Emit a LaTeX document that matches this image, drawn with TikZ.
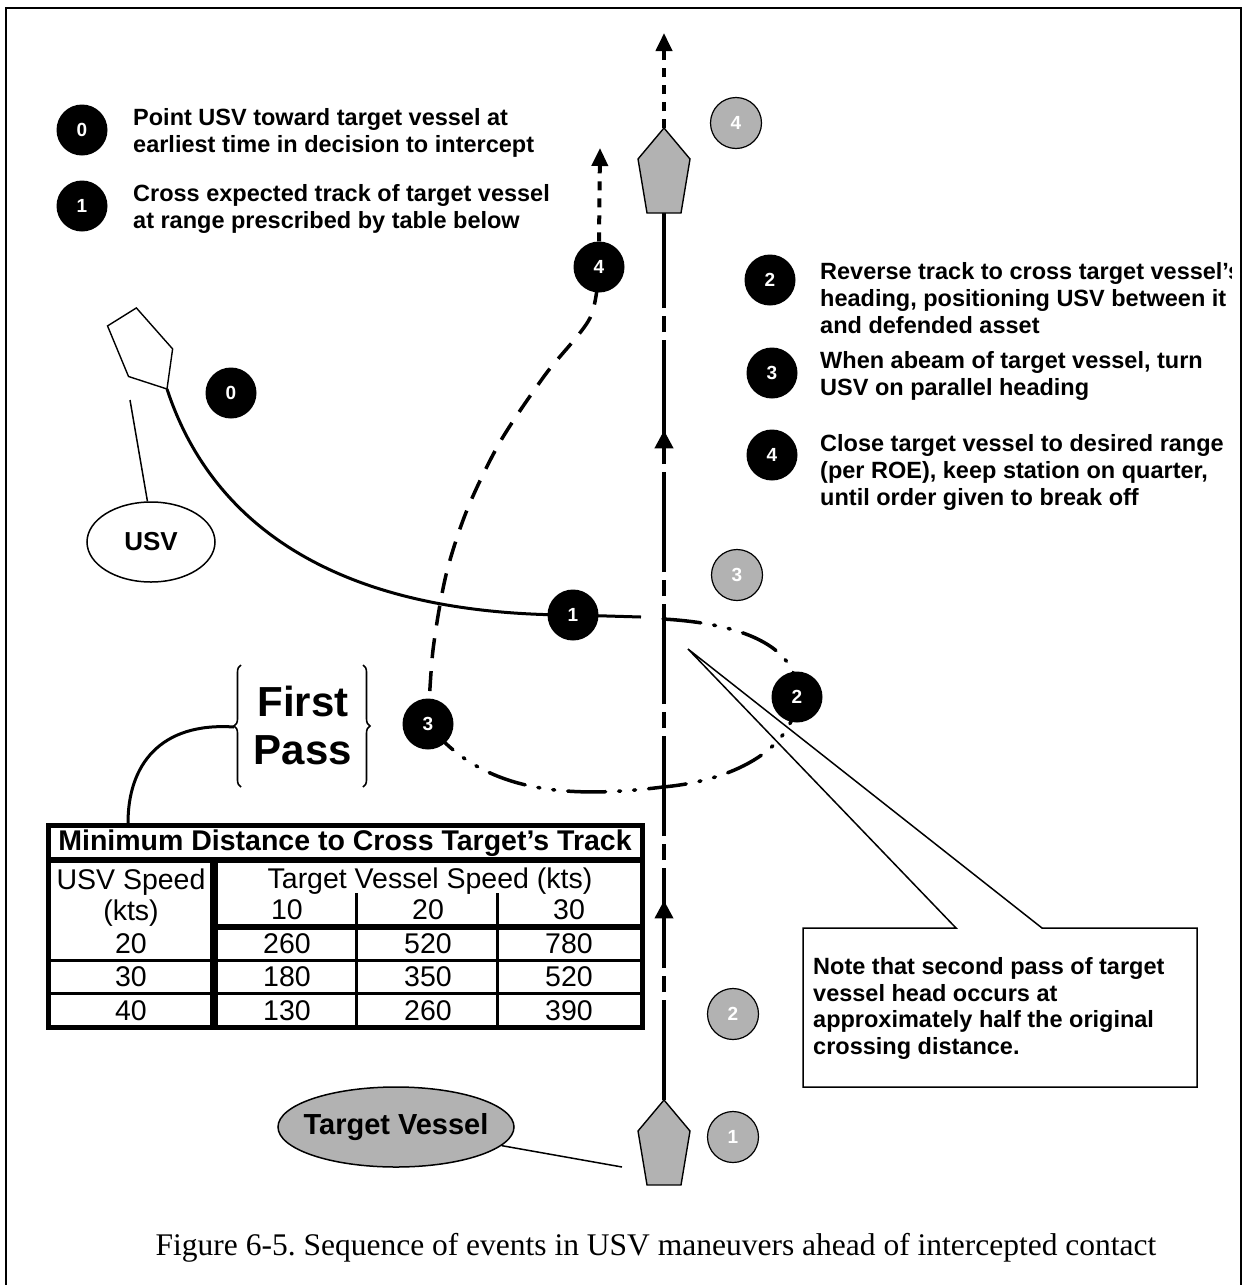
\documentclass[tikz,border=0pt]{standalone}
\usepackage{fontspec}
\setmainfont{Liberation Sans}
\newfontfamily\captionserif{Liberation Serif}
\usetikzlibrary{arrows.meta, decorations.pathreplacing, decorations.markings, shapes.geometric, backgrounds}
\definecolor{shipgray}{gray}{0.70}
\frenchspacing

\tikzset{
  pics/vessel/.style={code={
    \draw[line width=1.4pt, fill=#1] (0,0) -- (26,31) -- (17,85) -- (-17,85) -- (-26,31) -- cycle;
    \coordinate (-apex) at (0,0);
    \coordinate (-stern) at (0,85);
  }}
}

\begin{document}
\begin{tikzpicture}[x=1pt, y=-1pt,
  blackdot/.style={circle, fill=black, minimum size=51pt, inner sep=0pt, text=white, font=\fontsize{19}{19}\selectfont\bfseries},
  greydot/.style={circle, draw=black, line width=1.2pt, fill=shipgray, minimum size=51pt, inner sep=0pt, text=white, font=\fontsize{19}{19}\selectfont\bfseries},
  legend/.style={anchor=base west, align=left, inner sep=0pt, font=\fontsize{23.5}{27}\selectfont\bfseries},
  cell/.style={anchor=base, inner sep=0pt, font=\fontsize{28.5}{28.5}\selectfont},
  tip/.style={-{Triangle[width=16pt,length=18pt]}},
  ]
  \useasboundingbox (0,0) rectangle (1246,1285);

  % Frame
  \draw[line width=2.5pt] (6,1285) -- (6,8) -- (1241,8) -- (1241,1285);

  % Legend (text anchored on its last line)
  \node[blackdot] (l0) at (82,130) {0};
  \node[blackdot] (l1) at (82,206) {1};
  \node[blackdot] (l2) at (770,280) {2};
  \node[blackdot] (l3) at (772,373) {3};
  \node[blackdot] (l4) at (772,455) {4};
  \node[legend] (t0) at (133,152) {Point USV toward target vessel at\\earliest time in decision to intercept};
  \node[legend] (t1) at (133,228) {Cross expected track of target vessel\\at range prescribed by table below};
  \begin{scope}
    \clip (0,0) rectangle (1231,1285);
    \node[legend] (t2) at (820,333) {Reverse track to cross target vessel's\\heading, positioning USV between it\\and defended asset};
  \end{scope}
  \node[legend] (t3) at (820,395) {When abeam of target vessel, turn\\USV on parallel heading};
  \node[legend] (t4) at (820,505) {Close target vessel to desired range\\(per ROE), keep station on quarter,\\until order given to break off};

  % Vessels
  \pic (tvB) at (664,1100) {vessel=shipgray};
  \pic (tvT) at (664,128) {vessel=shipgray};
  \pic[rotate=212] (usv) at (167,389) {vessel=white};

  % USV positions
  \node[blackdot] (b0) at (231,393) {0};
  \node[blackdot] (b1) at (573,615) {1};
  \node[blackdot] (b2) at (797,697) {2};
  \node[blackdot] (b3) at (428,724) {3};
  \node[blackdot] (b4) at (599,267) {4};

  % Target positions
  \node[greydot] (g1) at (733,1137) {1};
  \node[greydot] (g2) at (733,1014) {2};
  \node[greydot] (g3) at (737,575) {3};
  \node[greydot] (g4) at (736,123) {4};

  \coordinate (topEnd) at (664,33);
  \coordinate (b4End) at (600,148);
  \coordinate (sEnd) at (641,617);
  \coordinate (loopStart) at (663,619);
  \coordinate (crossB) at (663,787);

  \begin{scope}[on background layer]
    % Target track
    \draw[line width=4pt, dash pattern=on 100pt off 8pt on 16pt off 8pt, postaction={decorate},
      decoration={markings,
        mark=at position 0.225 with {\arrow{Triangle[width=18pt,length=18pt]}},
        mark=at position 0.755 with {\arrow{Triangle[width=18pt,length=18pt]}}}]
      (tvB-apex) -- (tvT-stern);
    \draw[line width=4pt, dash pattern=on 9pt off 8pt, tip] (tvT-apex) -- (topEnd);

    % USV track
    \draw[line width=3pt] (usv-apex) .. controls (210,520) and (330,615) .. (b1.center) -- (sEnd);
    \draw[line width=3.5pt, line cap=round, dash pattern=on 38pt off 13pt on 2pt off 13pt on 2pt off 13pt]
      (loopStart) .. controls (750,624) and (800,650) .. (b2.center)
      .. controls (795,745) and (740,780) .. (crossB)
      .. controls (560,800) and (480,790) .. (b3.center);
    \draw[line width=3.5pt, dash pattern=on 20pt off 13pt]
      plot[smooth] coordinates {(b3.center) (433,650) (446,575) (467,510) (500,442) (545,375) (590,318) (b4.center)};
    \draw[line width=4pt, dash pattern=on 9pt off 8pt, tip] (b4.north) -- (b4End);
  \end{scope}

  % Labels
  \coordinate (usvPtr) at (130,400);
  \node[ellipse, draw, line width=1.5pt, inner sep=0pt, minimum width=128pt, minimum height=80pt,
    font=\fontsize{26}{26}\selectfont\bfseries] (usvLbl) at (151,542) {USV};
  \draw[line width=1.5pt] (usvLbl.95) -- (usvPtr);
  \coordinate (tvPtr) at (622,1167);
  \node[ellipse, draw, line width=1.5pt, fill=shipgray, inner xsep=-14pt, inner ysep=0pt,
    minimum width=236pt, minimum height=80pt,
    font=\fontsize{29}{29}\selectfont\bfseries] (tvLbl) at (396,1127) {Target Vessel};
  \draw[line width=1.5pt] (tvLbl.-10) -- (tvPtr);

  % First pass
  \node[align=center, inner sep=0pt, font=\fontsize{42}{48}\selectfont\bfseries] (fpass) at (303,725) {First\\Pass};
  \draw[decorate, decoration={brace, amplitude=7pt}, line width=1.6pt] (241,787) -- (241,665);
  \draw[decorate, decoration={brace, amplitude=7pt}, line width=1.6pt] (363,665) -- (363,787);
  \coordinate (fpTip) at (234,727);
  \coordinate (tblTop) at (128,823);
  \draw[line width=3pt] (fpTip) .. controls (160,722) and (128,765) .. (tblTop);

  % Table
  \draw[line width=5pt] (48,825) rectangle (642,1027);
  \draw[line width=6pt] (48,860) -- (642,860);
  \draw[line width=8pt] (214,860) -- (214,1027);
  \draw[line width=6pt] (214,926.5) -- (642,926.5);
  \draw[line width=3pt] (48,960) -- (642,960) (48,993.5) -- (642,993.5);
  \draw[line width=3pt] (356,893) -- (356,1027) (497,893) -- (497,1027);
  \node[cell, font=\fontsize{28.5}{28.5}\selectfont\bfseries] (tblTitle) at (345,850) {Minimum Distance to Cross Target's Track};
  \node[cell] (hUsv) at (131,889) {USV Speed};
  \node[cell] (hUsvKts) at (131,920) {(kts)};
  \node[cell] (hTv) at (430,888) {Target Vessel Speed (kts)};
  \node[cell] (hTa) at (287,919) {10};
  \node[cell] (hTb) at (428,919) {20};
  \node[cell] (hTc) at (569,919) {30};
  \foreach \spd/\va/\vb/\vc [count=\r] in {20/260/520/780, 30/180/350/520, 40/130/260/390} {
    \pgfmathsetmacro\yb{953+33.5*(\r-1)}
    \node[cell] (spd\r) at (131,\yb) {\spd};
    \node[cell] (va\r) at (287,\yb) {\va};
    \node[cell] (vb\r) at (428,\yb) {\vb};
    \node[cell] (vc\r) at (569,\yb) {\vc};
  }

  % Note
  \coordinate (noteTip) at (688,649);
  \draw[line width=1.5pt] (803,928) -- (956,928) -- (noteTip) -- (1042,928) -- (1197,928) -- (1197,1087) -- (803,1087) -- cycle;
  \node[legend, font=\fontsize{23.5}{26.5}\selectfont\bfseries] (noteTxt) at (813,1054)
    {Note that second pass of target\\vessel head occurs at\\approximately half the original\\crossing distance.};

  % Caption
  \node[anchor=base, inner sep=0pt, font=\captionserif\fontsize{31.5}{31.5}\selectfont] (caption) at (656,1255)
    {Figure 6-5. Sequence of events in USV maneuvers ahead of intercepted contact};
\end{tikzpicture}
\end{document}
